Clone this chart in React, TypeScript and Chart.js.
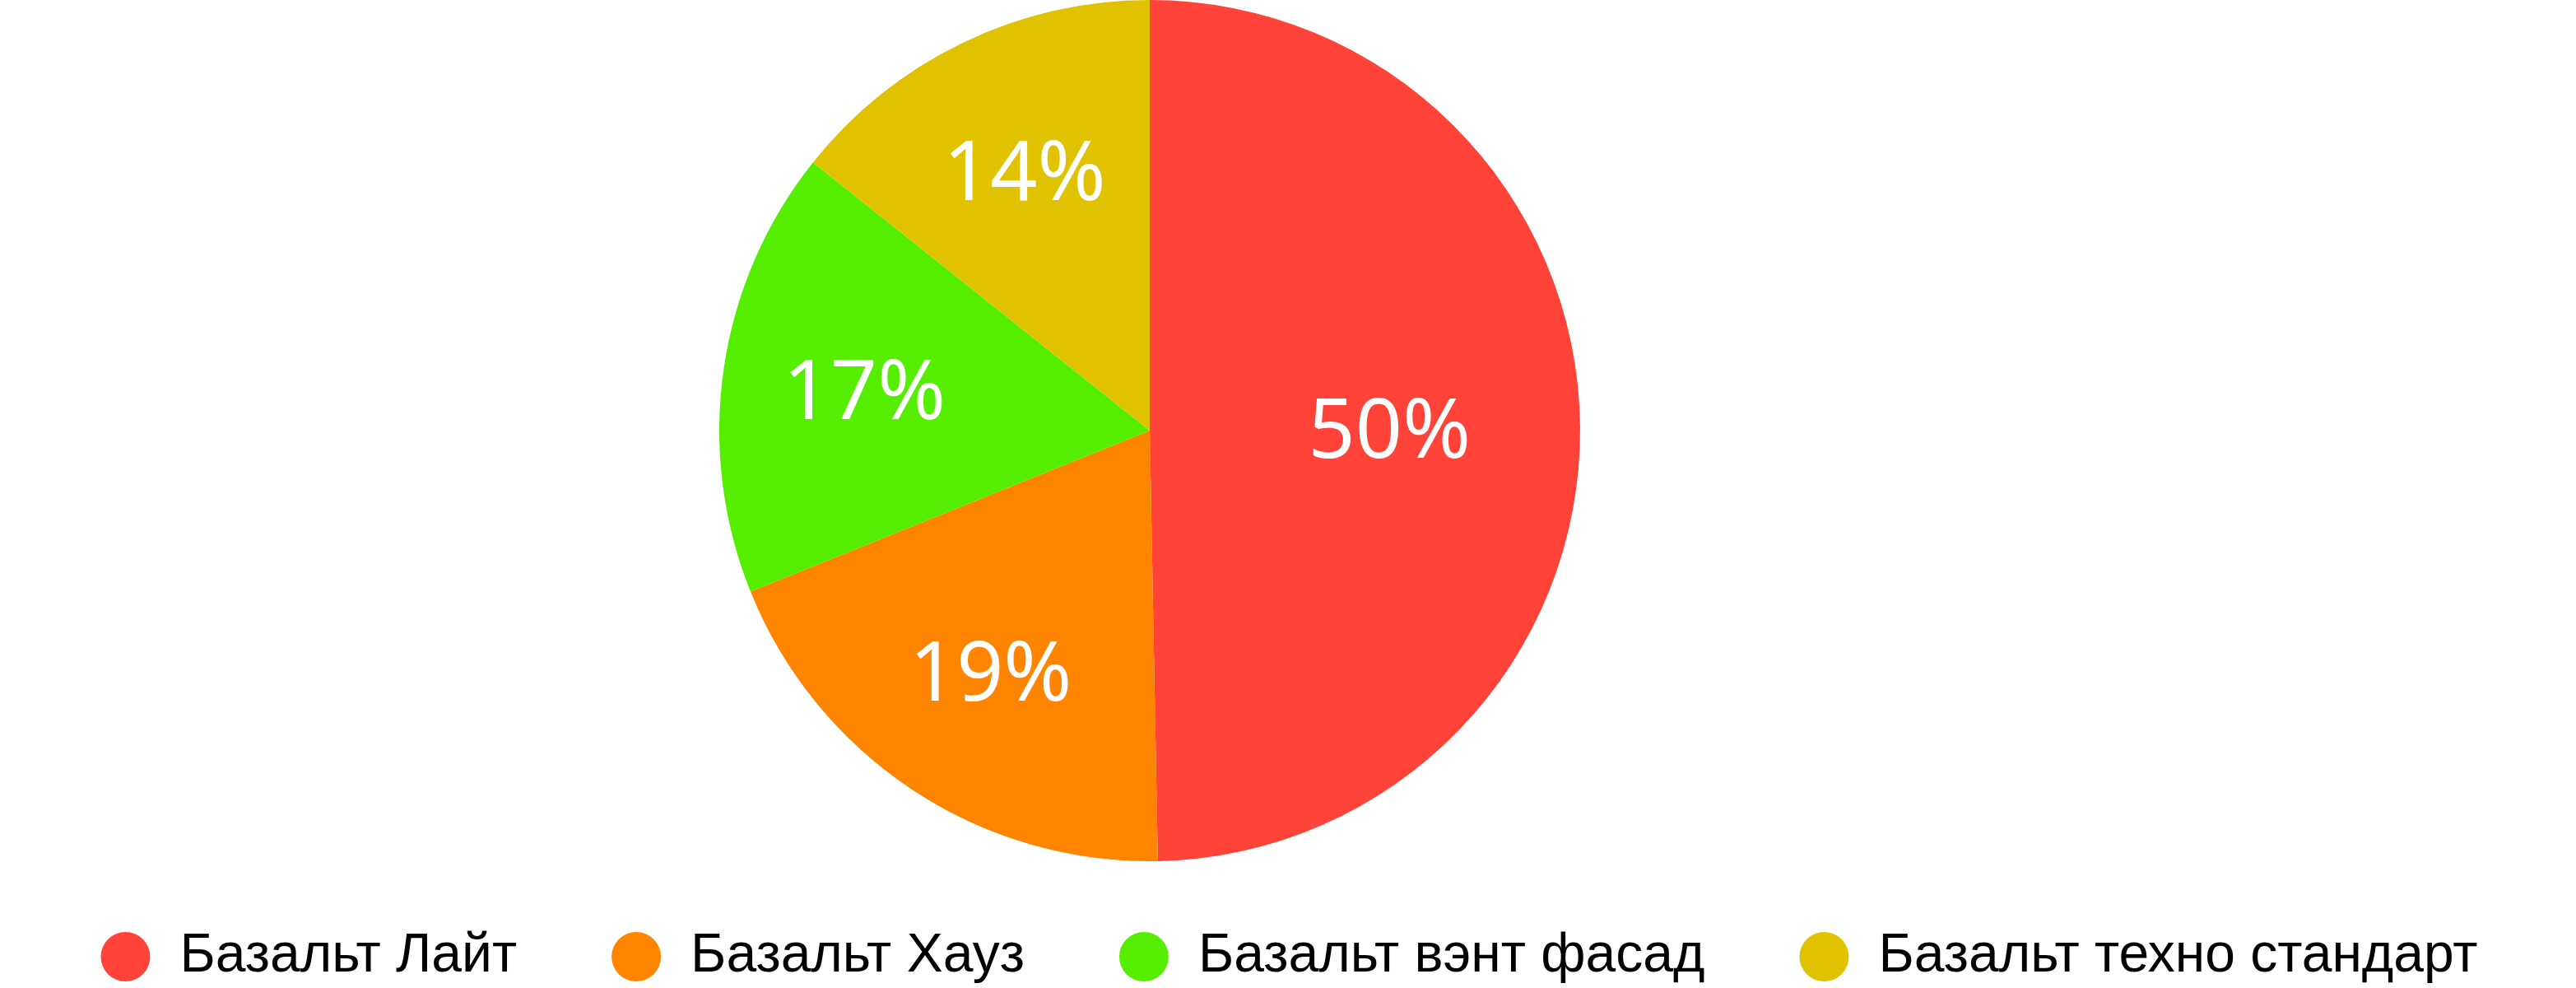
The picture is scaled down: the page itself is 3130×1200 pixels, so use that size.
import React, { useEffect, useRef } from "react";
import { Chart, registerables } from "chart.js";

Chart.register(...registerables);

const categories = ["Базальт Лайт", "Базальт Хауз", "Базальт вэнт фасад", "Базальт техно стандарт"];
const shares = [49.7, 19.2, 16.8, 14.3];
const shareLabels = ["50%", "19%", "17%", "14%"];
const colors = ["#FF4338", "#FF8400", "#55EE00", "#E0C200"];

const LEGEND_FONT = "'Liberation Sans', Arial, Helvetica, sans-serif";
const LABEL_FONT = "'Noto Sans', 'Liberation Sans', Arial, sans-serif";

const areaPlugin = {
  id: "areaShift",
  afterLayout(chart: any, _args: any, opts: any) {
    const a = chart.chartArea;
    a.right -= opts.shiftRight || 0;
    a.bottom += opts.extendBottom || 0;
    a.width = a.right - a.left;
    a.height = a.bottom - a.top;
    const lg = chart.legend;
    if (lg && opts.legendShift) {
      lg.top += opts.legendShift;
      lg.bottom += opts.legendShift;
    }
  },
};

const labelPlugin = {
  id: "sliceLabels",
  afterDatasetsDraw(chart: any, _args: any, opts: any) {
    const meta = chart.getDatasetMeta(0);
    const ctx = chart.ctx;
    ctx.save();
    ctx.fillStyle = opts.color;
    ctx.font = `${opts.size}px ${LABEL_FONT}`;
    ctx.textAlign = "center";
    ctx.textBaseline = "alphabetic";
    meta.data.forEach((arc: any, i: number) => {
      const { x, y, startAngle, endAngle, outerRadius } = arc.getProps(
        ["x", "y", "startAngle", "endAngle", "outerRadius"],
        true
      );
      const mid = (startAngle + endAngle) / 2;
      const frac = (endAngle - startAngle) / (2 * Math.PI);
      const r = outerRadius * (frac > 0.4 ? opts.largeFactor : opts.factor);
      ctx.fillText(
        shareLabels[i],
        x + Math.cos(mid) * r,
        y + Math.sin(mid) * r + opts.size * 0.36
      );
    });
    ctx.restore();
  },
};

export default function App() {
  const ref = useRef<HTMLCanvasElement | null>(null);

  useEffect(() => {
    document.body.style.margin = "0";
    document.body.style.overflow = "hidden";
    if (!ref.current) return;
    const chart = new Chart(ref.current, {
      type: "pie",
      data: {
        labels: categories,
        datasets: [
          {
            data: shares,
            backgroundColor: colors,
            borderWidth: 0,
            hoverOffset: 0,
          },
        ],
      },
      options: {
        animation: false,
        responsive: true,
        maintainAspectRatio: false,
        layout: { padding: 0 },
        plugins: {
          tooltip: { enabled: false },
          legend: {
            position: "bottom",
            labels: {
              usePointStyle: true,
              pointStyle: "circle",
              boxHeight: 42.4,
              boxWidth: 66,
              padding: 112,
              color: "#000",
              font: { size: 66, family: LEGEND_FONT },
            },
          },
          areaShift: { shiftRight: 336, extendBottom: 34, legendShift: 5 },
          sliceLabels: { color: "#FFFFFF", size: 100, factor: 0.67, largeFactor: 0.557 },
        } as any,
      },
      plugins: [areaPlugin, labelPlugin],
    });
    return () => chart.destroy();
  }, []);

  return (
    <div style={{ position: "relative", width: "3130px", height: "1200px" }}>
      <canvas ref={ref} />
    </div>
  );
}
